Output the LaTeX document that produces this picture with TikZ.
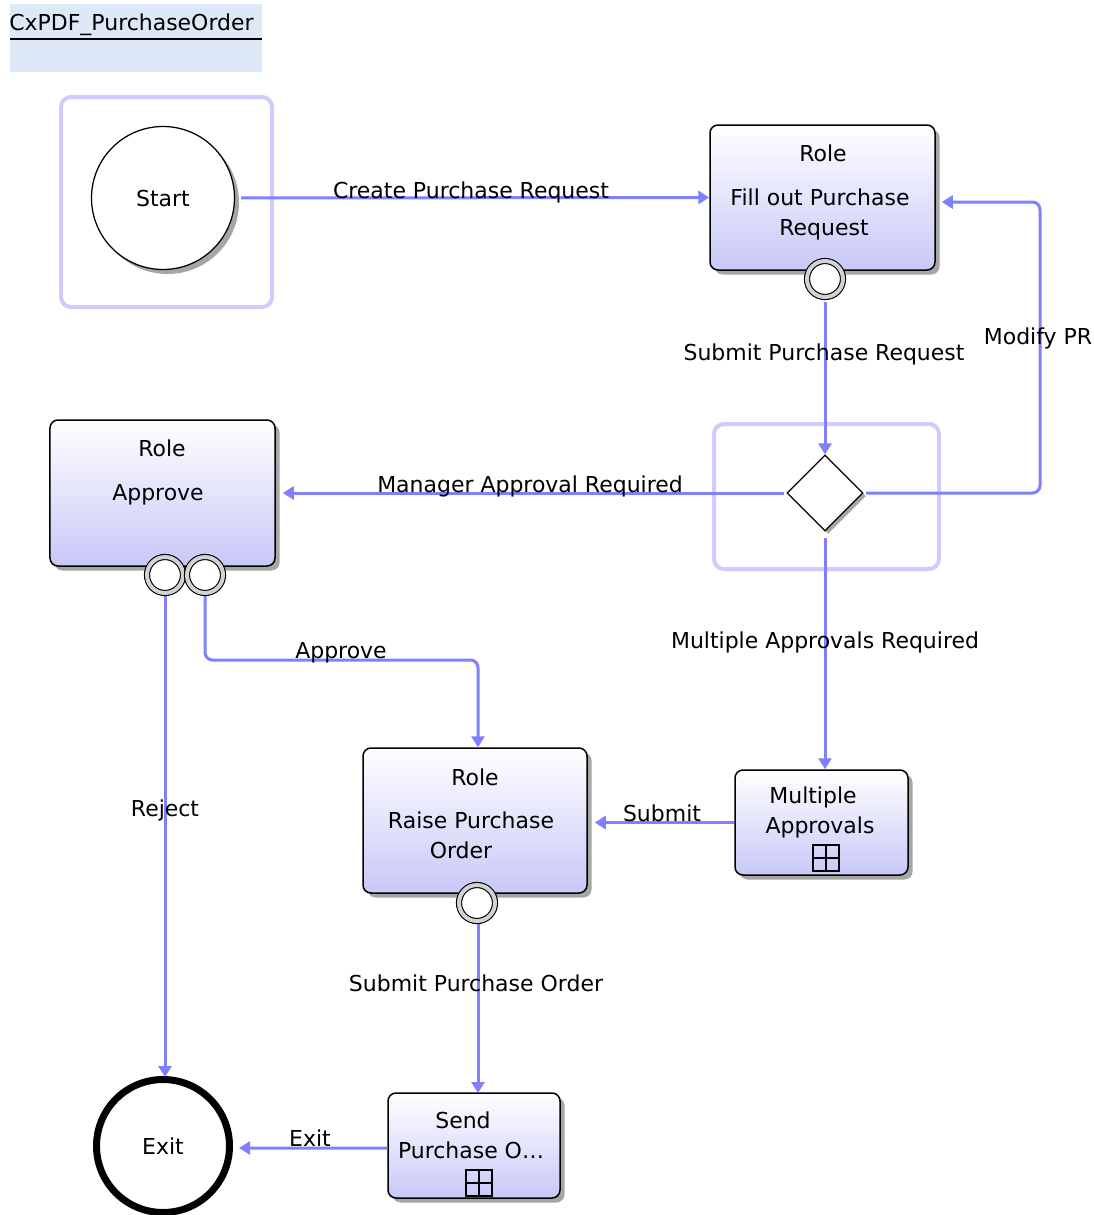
\documentclass[tikz,border=0pt]{standalone}
\usepackage{fontspec}
\setmainfont{DejaVu Sans}
\usetikzlibrary{shapes.geometric,shadows,arrows.meta,calc}
\definecolor{flowc}{RGB}{128,128,255}
\definecolor{selc}{RGB}{204,204,255}
\definecolor{taskbot}{RGB}{200,200,248}
\definecolor{titlebg}{RGB}{221,233,247}
\tikzset{
  lbl/.style={font=\fontsize{12.5}{15}\selectfont, inner sep=0pt, text height=0.75em, text depth=0.22em, yshift=-0.8mm},
  taskbox/.style={draw=black, line width=0.3mm, rounded corners=1.6mm, top color=white, bottom color=taskbot,
     inner sep=0pt, drop shadow={shadow xshift=0.9mm, shadow yshift=-0.9mm, fill=black, opacity=0.35}},
  ringnode/.style={circle, draw=black, line width=0.22mm, double=gray!35, double distance=0.8mm, fill=white,
     minimum size=7.2mm, inner sep=0pt},
  plusbox/.style={draw=black, line width=0.3mm, minimum size=5.2mm, inner sep=0pt,
     path picture={\draw[black, line width=0.3mm] (path picture bounding box.north) -- (path picture bounding box.south)
       (path picture bounding box.west) -- (path picture bounding box.east);}},
  selframe/.style={draw=selc, line width=0.8mm, rounded corners=2mm},
  flow/.style={draw=flowc, line width=0.6mm, -{Triangle[length=2.2mm,width=2.6mm]}},
  evtext/.style={font=\fontsize{12.5}{15}\selectfont, text height=1em, text depth=0pt},
}
\begin{document}
\begin{tikzpicture}[x=0.2mm,y=-0.2mm]
\useasboundingbox (0,0) rectangle (1094,1215);
% title
\fill[titlebg] (10,4) rectangle (262,72);
\node[lbl, anchor=west] (title) at (9,22) {CxPDF\_PurchaseOrder};
\draw[line width=0.3mm] (10,39) -- (262,39);
% selection frames
\draw[selframe] (61,97) rectangle (272,307);
\draw[selframe] (714,424) rectangle (939,569);
% start
\node[circle, draw=black, line width=0.25mm, fill=white, minimum size=28.6mm, inner sep=0pt,
  drop shadow={shadow xshift=0.9mm, shadow yshift=-0.9mm, fill=black, opacity=0.35},
  evtext] (start) at (163,198) {Start};
% exit
\node[circle, draw=black, line width=1.4mm, fill=white, minimum size=26.6mm, inner sep=0pt,
  evtext] (exit) at (163,1146) {Exit};
% tasks
\node[taskbox, minimum width=45mm, minimum height=29mm] (fill) at (822.5,197.5) {};
\node[taskbox, minimum width=45mm, minimum height=29.2mm] (approve) at (162.5,493) {};
\node[taskbox, minimum width=44.8mm, minimum height=29mm] (raise) at (475,820.5) {};
\node[taskbox, minimum width=34.6mm, minimum height=21mm] (multi) at (821.5,822.5) {};
\node[taskbox, minimum width=34.4mm, minimum height=21mm] (send) at (474,1145.5) {};
% task texts
\node[lbl] (fillt1) at (823,153) {Role};
\node[lbl] (fillt2) at (820,197) {Fill out Purchase};
\node[lbl] (fillt3) at (824,227) {Request};
\node[lbl] (appt1) at (162,448) {Role};
\node[lbl] (appt2) at (158,492) {Approve};
\node[lbl] (raiset1) at (475,777) {Role};
\node[lbl] (raiset2) at (471,820) {Raise Purchase};
\node[lbl] (raiset3) at (461,850) {Order};
\node[lbl] (multit1) at (813,795) {Multiple};
\node[lbl] (multit2) at (820,825) {Approvals};
\node[lbl] (sendt1) at (463,1120) {Send};
\node[lbl] (sendt2) at (471,1150) {Purchase O\ldots};
% plus markers
\node[plusbox] (multiplus) at (826,858) {};
\node[plusbox] (sendplus) at (479,1183) {};
% gateway
\node[diamond, draw=black, line width=0.25mm, fill=white, minimum width=15.2mm, minimum height=15.2mm, inner sep=0pt,
  drop shadow={shadow xshift=0.6mm, shadow yshift=-0.6mm, fill=black, opacity=0.35}] (gw) at (825,493) {};
% connectors
\coordinate (mpr) at (1040,493);
\coordinate (apc) at (478,660);
\draw[flow, shorten <=1.2mm] (start.east) -- (fill.west);
\draw[flow, shorten <=0.4mm] (825,300) -- (gw.north);
\draw[flow, rounded corners=1.5mm, shorten <=0.5mm, shorten >=1.2mm] (gw.east) -- (mpr) |- ($(fill.east)+(0,4.5)$);
\draw[flow, shorten <=0.5mm, shorten >=1.4mm] (gw.west) -- (gw.west -| approve.east);
\draw[flow, shorten <=1.2mm] (gw.south) -- (gw.south |- multi.north);
\draw[flow, rounded corners=1.5mm] (205,595) |- (apc) -- (apc |- raise.north);
\draw[flow] (165,595) -- (165,1077);
\draw[flow, shorten >=1.4mm] (multi.west) -- (multi.west -| raise.east);
\draw[flow] (478,924) -- (478 ,1093);
\draw[flow, shorten >=1.2mm] ($(send.west)+(0,2.5)$) -- ($(exit.east)+(0,2)$);
% rings (on top of connector starts)
\node[ringnode] (fring) at (825,279) {};
\node[ringnode] (aring1) at (165,575) {};
\node[ringnode] (aring2) at (205,575) {};
\node[ringnode] (rring) at (477,903) {};
% connector labels
\node[lbl] (l1) at (471,190) {Create Purchase Request};
\node[lbl] (l2) at (824,352) {Submit Purchase Request};
\node[lbl] (l3) at (1038,336) {Modify PR};
\node[lbl] (l4) at (530,484) {Manager Approval Required};
\node[lbl] (l5) at (825,640) {Multiple Approvals Required};
\node[lbl] (l6) at (341,650) {Approve};
\node[lbl] (l7) at (165,808) {Reject};
\node[lbl] (l8) at (662,813) {Submit};
\node[lbl] (l9) at (476,983) {Submit Purchase Order};
\node[lbl] (l10) at (310,1138) {Exit};
\end{tikzpicture}
\end{document}
